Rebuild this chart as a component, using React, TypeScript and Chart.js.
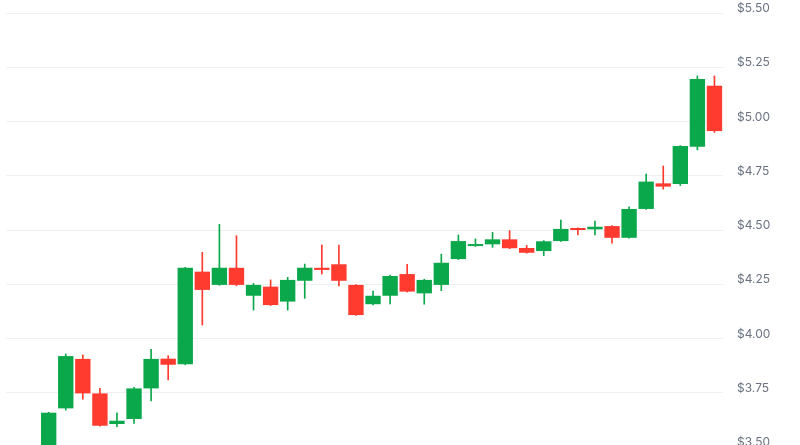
import React, { useEffect, useRef } from "react";
import { Chart, registerables } from "chart.js";

Chart.register(...registerables);

// Candle data (two leading slots lie below the visible window)
const opens = [null, null, 3.45, 3.678, 3.906, 3.747, 3.606, 3.629, 3.77, 3.907, 3.881, 4.308, 4.247, 4.326, 4.197, 4.239, 4.17, 4.266, 4.326, 4.342, 4.247, 4.158, 4.197, 4.297, 4.208, 4.247, 4.366, 4.426, 4.434, 4.457, 4.417, 4.403, 4.449, 4.508, 4.503, 4.518, 4.464, 4.597, 4.715, 4.712, 4.884, 5.165];
const closes = [null, null, 3.658, 3.919, 3.747, 3.598, 3.621, 3.77, 3.906, 3.879, 4.326, 4.224, 4.326, 4.247, 4.247, 4.154, 4.27, 4.326, 4.316, 4.266, 4.108, 4.197, 4.288, 4.216, 4.27, 4.349, 4.449, 4.435, 4.457, 4.416, 4.395, 4.448, 4.505, 4.5, 4.515, 4.464, 4.597, 4.723, 4.7, 4.887, 5.196, 4.956];
const highs = [null, null, 3.66, 3.929, 3.924, 3.77, 3.658, 3.775, 3.95, 3.921, 4.328, 4.397, 4.526, 4.474, 4.254, 4.27, 4.282, 4.343, 4.431, 4.431, 4.249, 4.219, 4.292, 4.342, 4.273, 4.389, 4.477, 4.459, 4.489, 4.497, 4.429, 4.451, 4.546, 4.51, 4.541, 4.52, 4.607, 4.758, 4.795, 4.889, 5.21, 5.21];
const lows = [null, null, 3.45, 3.67, 3.72, 3.596, 3.594, 3.609, 3.712, 3.809, 3.879, 4.062, 4.245, 4.243, 4.131, 4.152, 4.131, 4.185, 4.297, 4.242, 4.106, 4.155, 4.159, 4.214, 4.158, 4.22, 4.364, 4.424, 4.42, 4.414, 4.393, 4.382, 4.447, 4.477, 4.477, 4.439, 4.462, 4.595, 4.688, 4.705, 4.869, 4.95];
const labels = opens.map((_, i) => `T${i + 1}`);
const yTicks = [3.5, 3.75, 4.0, 4.25, 4.5, 4.75, 5.0, 5.25, 5.5];

const UP = "#0aa84a";
const DOWN = "#ff3b30";

export default function App() {
  const ref = useRef<HTMLCanvasElement | null>(null);

  useEffect(() => {
    if (!ref.current) return;
    const colors = opens.map((o, i) =>
      o == null ? UP : (closes[i] as number) >= o ? UP : DOWN
    );
    const bodies = opens.map((o, i) => (o == null ? null : [o, closes[i]]));
    const wicks = lows.map((l, i) => (l == null ? null : [l, highs[i]]));

    const chart = new Chart(ref.current, {
      type: "bar",
      data: {
        labels,
        datasets: [
          {
            label: "body",
            data: bodies as any,
            backgroundColor: colors,
            borderWidth: 0,
            barPercentage: 0.9,
            categoryPercentage: 1,
            grouped: false,
            minBarLength: 2,
            order: 0,
          } as any,
          {
            label: "wick",
            data: wicks as any,
            backgroundColor: colors,
            borderWidth: 0,
            barThickness: 1,
            grouped: false,
            order: 1,
          } as any,
        ],
      },
      options: {
        responsive: false,
        animation: false,
        devicePixelRatio: 1,
        layout: { padding: { left: 6, top: 13, bottom: 13, right: 0 } },
        plugins: { legend: { display: false }, tooltip: { enabled: false } },
        scales: {
          x: { type: "category", display: false, offset: true },
          y: {
            position: "right",
            min: 3.5,
            max: 5.5,
            afterFit: (s: any) => {
              s.width = 77;
              s.paddingTop = 0;
              s.paddingBottom = 0;
            },
            afterBuildTicks: (s: any) => {
              s.ticks = yTicks.map((v) => ({ value: v }));
            },
            ticks: {
              padding: 14,
              labelOffset: -4.5,
              color: "#6b7280",
              font: { family: "Inter", size: 12 },
              callback: (v: any) => `$${Number(v).toFixed(2)}`,
            },
            grid: { color: "#eff0f2", drawTicks: false, lineWidth: 1 },
            border: { display: false },
          },
        },
      },
    });
    return () => chart.destroy();
  }, []);

  return (
    <div style={{ position: "fixed", top: 0, left: 0, width: 800, height: 460, background: "#fff" }}>
      <canvas ref={ref} width={800} height={460} style={{ display: "block" }} />
    </div>
  );
}
